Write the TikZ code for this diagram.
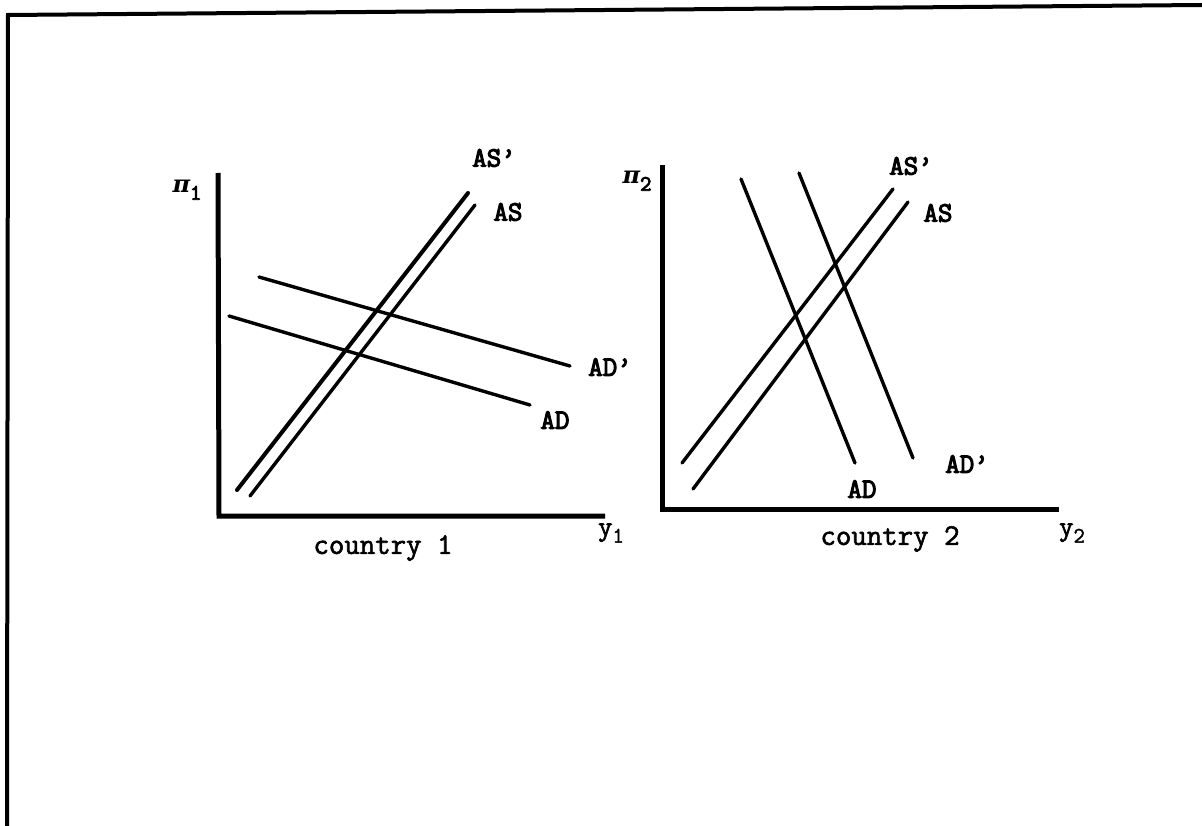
\documentclass[tikz,border=0pt]{standalone}
\usepackage{fontspec}
\newfontfamily\labfont{Latin Modern Mono}[FakeBold=4]
\newfontfamily\capfont{Latin Modern Mono}[FakeBold=2]
\newfontfamily\pifont{DejaVu Serif}
\begin{document}
\begin{tikzpicture}[x=1pt,y=-1pt,
  axis/.style={line width=5pt, line join=miter},
  curve/.style={line width=3.4pt, line cap=round},
  lab/.style={font=\fontsize{28}{28}\labfont, inner sep=0pt},
  capt/.style={font=\fontsize{30}{30}\capfont, inner sep=0pt},
  vlab/.style={font=\fontsize{28}{28}\capfont, inner sep=0pt}]
\useasboundingbox (0,0) rectangle (1202,826);
% frame
\coordinate (fb) at (7,826);
\coordinate (ftl) at (8,15);
\coordinate (ftr) at (1202,5);
\draw[line width=4pt] (fb) -- (ftl) -- (ftr);
% ---- country 1 ----
\coordinate (o1) at (219,516);
\coordinate (yt1) at (218,173);
\coordinate (xe1) at (605,516);
\draw[axis] (yt1) -- (o1) -- (xe1);
\coordinate (asp1a) at (237,490); \coordinate (asp1b) at (468,193);
\coordinate (as1a) at (250,496);  \coordinate (as1b) at (475,205);
\coordinate (adp1a) at (259,277); \coordinate (adp1b) at (570,366);
\coordinate (ad1a) at (229,316);  \coordinate (ad1b) at (530,405);
\draw[curve, line width=4pt] (asp1a) -- (asp1b);
\draw[curve] (as1a) -- (as1b);
\draw[curve] (adp1a) -- (adp1b);
\draw[curve] (ad1a) -- (ad1b);
\node[lab] (lasp1) at (494,158) {AS’};
\node[lab] (las1) at (508,212) {AS};
\node[lab] (ladp1) at (610,367) {AD’};
\node[lab] (lad1) at (555,420) {AD};
\node[vlab] (pi1) at (187,190) {{\fontsize{24}{24}\pifont\bfseries\itshape π}\raisebox{-7pt}{\fontsize{22}{22}\labfont 1}};
\node[vlab] (y1) at (611,533) {y\raisebox{-7pt}{\fontsize{22}{22}\selectfont 1}};
\node[capt] (c1) at (383,548) {country 1};
% ---- country 2 ----
\coordinate (o2) at (662,509);
\coordinate (yt2) at (662,165);
\coordinate (xe2) at (1059,509);
\draw[axis] (yt2) -- (o2) -- (xe2);
\coordinate (ad2a) at (741,179);  \coordinate (ad2b) at (855,463);
\coordinate (adp2a) at (799,173); \coordinate (adp2b) at (913,458);
\coordinate (asp2a) at (682,463); \coordinate (asp2b) at (893,189);
\coordinate (as2a) at (693,489);  \coordinate (as2b) at (908,202);
\draw[curve] (ad2a) -- (ad2b);
\draw[curve] (adp2a) -- (adp2b);
\draw[curve] (asp2a) -- (asp2b);
\draw[curve] (as2a) -- (as2b);
\node[lab] (lasp2) at (911,166) {AS’};
\node[lab] (las2) at (938,213) {AS};
\node[lab] (ladp2) at (967,464) {AD’};
\node[lab] (lad2) at (862,489) {AD};
\node[vlab] (pi2) at (637,181) {{\fontsize{24}{24}\pifont\bfseries\itshape π}\raisebox{-7pt}{\fontsize{22}{22}\labfont 2}};
\node[vlab] (y2) at (1072,533) {y\raisebox{-7pt}{\fontsize{22}{22}\selectfont 2}};
\node[capt] (c2) at (890,539) {country 2};
\end{tikzpicture}
\end{document}
